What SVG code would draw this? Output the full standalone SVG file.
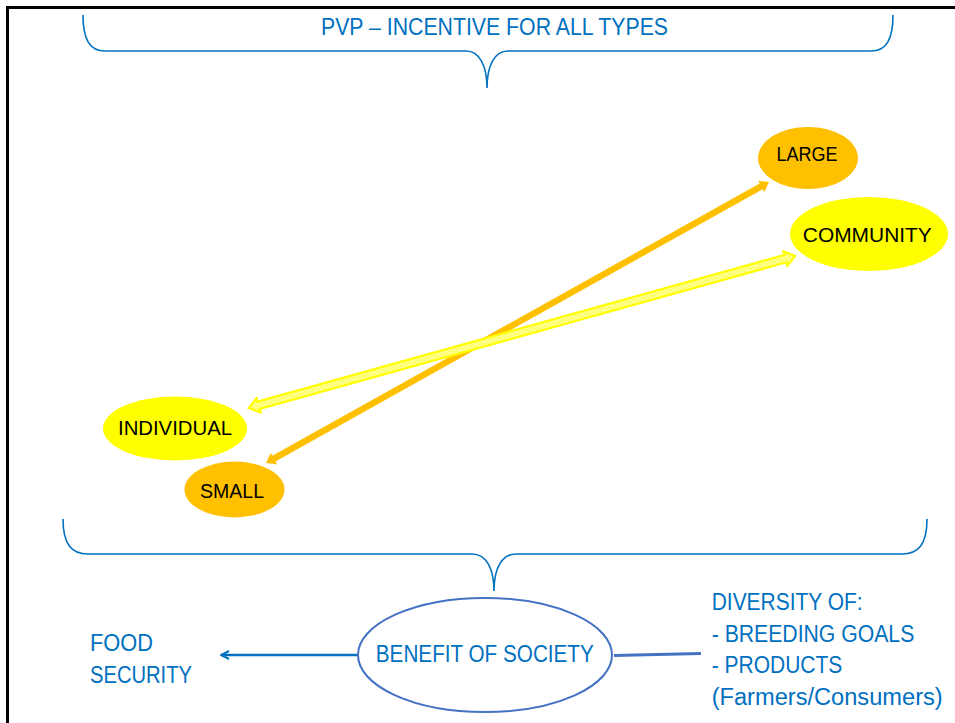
<svg xmlns="http://www.w3.org/2000/svg" width="955" height="723" viewBox="0 0 955 723">
<style>
.bt{font-family:"Liberation Sans",Arial,sans-serif;fill:#0070C0;font-size:23px}
.nt{font-family:"Liberation Sans",Arial,sans-serif;fill:#000;font-size:20px;text-anchor:middle}
.brace{fill:none;stroke:#0070C0;stroke-width:1.6}
</style>
<defs>
<marker id="chev" viewBox="0 0 10 10" refX="9" refY="5" markerWidth="10" markerHeight="10" markerUnits="userSpaceOnUse" orient="auto">
<path d="M1,1 L9,5 L1,9" fill="none" stroke="#0070C0" stroke-width="2"/>
</marker>
</defs>
<rect width="955" height="723" fill="#fff"/>
<path d="M7.5,723 V7.5 H955" fill="none" stroke="#000" stroke-width="3"/>

<g id="top-brace">
<path class="brace" d="M83,15 C83,40 90,51 105,51 H466 C479,51 487,65 487,88 C487,65 495,51 508,51 H871 C886,51 893,40 893,15"/>
<text class="bt" x="494.5" y="35" text-anchor="middle" textLength="347" lengthAdjust="spacingAndGlyphs">PVP – INCENTIVE FOR ALL TYPES</text>
</g>

<g id="connectors">
<polygon transform="translate(266,463) rotate(-29.19)" fill="#FFC000" points="0,0 9,-6.5 9,-3.2 567.2,-3.2 567.2,-6.5 576.2,0 567.2,6.5 567.2,3.2 9,3.2 9,6.5"/>
<polygon transform="translate(249,408) rotate(-15.56)" fill="#FFFF80" stroke="#FFFF00" stroke-width="2.2" stroke-linejoin="miter" points="0,0 10,-7.5 10,-3.8 556.8,-3.8 556.8,-7.5 566.8,0 556.8,7.5 556.8,3.8 10,3.8 10,7.5"/>
<line x1="357" y1="655" x2="221" y2="655" stroke="#0070C0" stroke-width="2.5" marker-end="url(#chev)"/>
<line x1="614" y1="655.5" x2="701" y2="653.5" stroke="#4472C4" stroke-width="3"/>
</g>

<g id="large">
<ellipse cx="808" cy="158" rx="50" ry="31" fill="#FFC000"/>
<text class="nt" x="807" y="160.7" textLength="61" lengthAdjust="spacingAndGlyphs">LARGE</text>
</g>
<g id="community">
<ellipse cx="869" cy="234" rx="79" ry="37" fill="#FFFF00"/>
<text class="nt" x="867.3" y="241.7" textLength="129" lengthAdjust="spacingAndGlyphs">COMMUNITY</text>
</g>
<g id="individual">
<ellipse cx="175" cy="428.5" rx="72" ry="32" fill="#FFFF00"/>
<text class="nt" x="175" y="435" textLength="114" lengthAdjust="spacingAndGlyphs">INDIVIDUAL</text>
</g>
<g id="small">
<ellipse cx="234.5" cy="489.5" rx="50" ry="28" fill="#FFC000"/>
<text class="nt" x="232" y="498.3" textLength="64" lengthAdjust="spacingAndGlyphs">SMALL</text>
</g>

<g id="bottom-brace">
<path class="brace" d="M63,519 C63,545 72,554 88,554 H472 C486,554 494,568 494,591 C494,568 502,554 516,554 H902 C918,554 927,545 927,519"/>
</g>

<g id="benefit">
<ellipse cx="485" cy="655" rx="127" ry="57" fill="#fff" stroke="#4472C4" stroke-width="2"/>
<text class="bt" x="484.8" y="662.3" text-anchor="middle" textLength="218" lengthAdjust="spacingAndGlyphs">BENEFIT OF SOCIETY</text>
</g>

<g id="food-security">
<text class="bt" x="90" y="650.7" textLength="63" lengthAdjust="spacingAndGlyphs">FOOD</text>
<text class="bt" x="90" y="682.7" textLength="102" lengthAdjust="spacingAndGlyphs">SECURITY</text>
</g>

<g id="diversity">
<text class="bt" x="711.7" y="610" textLength="151" lengthAdjust="spacingAndGlyphs">DIVERSITY OF:</text>
<text class="bt" x="711.7" y="641.7" textLength="202.6" lengthAdjust="spacingAndGlyphs">- BREEDING GOALS</text>
<text class="bt" x="711.7" y="673.3" textLength="130.6" lengthAdjust="spacingAndGlyphs">- PRODUCTS</text>
<text class="bt" x="711.7" y="705" textLength="231" lengthAdjust="spacingAndGlyphs">(Farmers/Consumers)</text>
</g>
</svg>
